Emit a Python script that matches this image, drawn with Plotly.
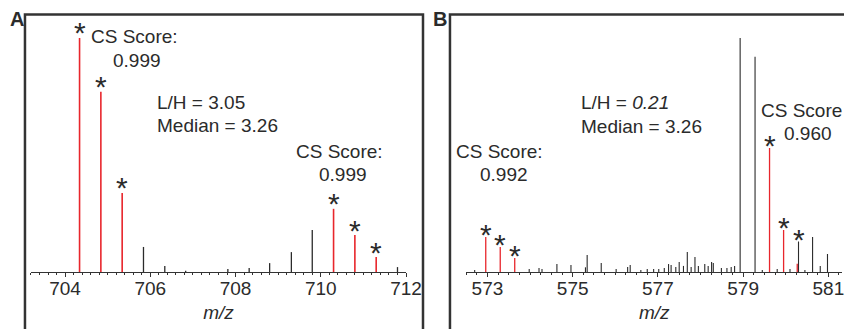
import plotly.graph_objects as go

# ---------------- data ----------------
# Panel A
a_mz = [704.34, 704.84, 705.34, 705.84, 706.34, 706.83, 707.82, 708.32, 708.80,
        709.31, 709.80, 710.30, 710.80, 711.30, 711.80]
a_int = [100, 77, 33.8, 10.7, 2.6, 0.5, 1.3, 1.7, 3.8, 8.5, 18, 27, 15.8, 6.4, 2.1]
a_marked = [1, 1, 1, 0, 0, 0, 0, 0, 0, 0, 0, 1, 1, 1, 0]

# Panel B
b_mz = [572.96, 573.30, 573.64, 579.62, 579.95, 580.27,
        578.93, 579.28, 580.30, 580.63, 580.81, 580.98,
        572.70, 573.98, 574.21, 574.28, 574.63, 574.96, 575.30, 575.34, 575.67,
        576.02, 576.29, 576.35, 576.60, 576.75, 576.90, 577.02, 577.15, 577.25,
        577.31, 577.42, 577.50, 577.60, 577.69, 577.78, 577.87, 577.95, 578.10,
        578.18, 578.26, 578.30, 578.49, 578.62, 578.72, 578.80, 579.45, 579.80,
        580.10, 580.45]
b_int = [15, 10.7, 6, 53, 18, 3.5,
         100, 92, 13, 15, 2.6, 7.7,
         0.9, 1.3, 1.7, 1.3, 3.4, 3.0, 2.0, 7.3, 3.8,
         1.3, 2.1, 3.0, 0.9, 1.3, 1.3, 1.3, 1.7, 3.4,
         3.0, 2.1, 4.3, 2.6, 8.5, 2.1, 6.4, 2.6, 3.4,
         2.6, 4.3, 3.8, 1.7, 1.7, 2.1, 2.6, 0.9, 1.3,
         1.3, 0.9]
b_red = [1, 1, 1, 1, 1, 1] + [0] * 44
b_star = [1, 1, 1, 1, 1, 0, 0, 0, 1] + [0] * 41

a_tick_vals = [704, 706, 708, 710, 712]
b_tick_vals = [573, 575, 577, 579, 581]

a_text = {"cs1": ("CS Score:", "0.999"), "lh": ("L/H = 3.05", "Median = 3.26"),
          "cs2": ("CS Score:", "0.999")}
b_text = {"cs1": ("CS Score:", "0.992"), "lh": ("L/H = <i>0.21</i>", "Median = 3.26"),
          "cs2": ("CS Score", "0.960")}

# ---------------- helpers ----------------
W, H = 845, 329          # reference picture size (layout positions are read in these pixels)
FIG_W = 860              # figure width handed to plotly
RED = "#e8262c"
DARK = "#2b2b2b"
FONT = "Liberation Sans, Arial, Helvetica, sans-serif"


def px(x):
    return x / W


def py(y):
    return (H - y) / H


def sticks(xs, ys, sel):
    X, Y = [], []
    for x, y, s in zip(xs, ys, sel):
        if s:
            X += [x, x, None]
            Y += [0, y, None]
    return X, Y


fig = go.Figure()

# Panel A peaks
xk, yk = sticks(a_mz, a_int, [1 - m for m in a_marked])
fig.add_trace(go.Scatter(x=xk, y=yk, mode="lines", line=dict(color=DARK, width=1.3),
                         xaxis="x", yaxis="y", hoverinfo="skip", showlegend=False))
xr, yr = sticks(a_mz, a_int, a_marked)
fig.add_trace(go.Scatter(x=xr, y=yr, mode="lines", line=dict(color=RED, width=1.6),
                         xaxis="x", yaxis="y", hoverinfo="skip", showlegend=False))

# Panel B peaks
xr, yr = sticks(b_mz, b_int, b_red)
fig.add_trace(go.Scatter(x=xr, y=yr, mode="lines", line=dict(color=RED, width=1.3),
                         xaxis="x2", yaxis="y2", hoverinfo="skip", showlegend=False))
xk, yk = sticks(b_mz, b_int, [1 - m for m in b_red])
fig.add_trace(go.Scatter(x=xk, y=yk, mode="lines", line=dict(color=DARK, width=1.1),
                         xaxis="x2", yaxis="y2", hoverinfo="skip", showlegend=False))

annotations = []
# asterisks
for x, y, m in zip(a_mz, a_int, a_marked):
    if m:
        annotations.append(dict(x=x, y=y, xref="x", yref="y", text="*", showarrow=False,
                                yanchor="middle", yshift=5,
                                font=dict(size=30, color=DARK, family=FONT)))
for x, y, m in zip(b_mz, b_int, b_star):
    if m:
        annotations.append(dict(x=x, y=y, xref="x2", yref="y2", text="*", showarrow=False,
                                yanchor="middle", yshift=2,
                                font=dict(size=30, color=DARK, family=FONT)))


def txt(t, x, y, size=19, anchor="left"):
    annotations.append(dict(x=px(x), y=py(y), xref="paper", yref="paper", text=t,
                            showarrow=False, xanchor=anchor, yanchor="middle",
                            font=dict(size=size, color=DARK, family=FONT)))


# Panel A labels
txt(a_text["cs1"][0], 89, 36)
txt(a_text["cs1"][1], 111, 60)
txt(a_text["lh"][0], 155, 102)
txt(a_text["lh"][1], 155, 125)
txt(a_text["cs2"][0], 294, 152)
txt(a_text["cs2"][1], 317, 174)
# Panel B labels
txt(b_text["cs1"][0], 455, 152)
txt(b_text["cs1"][1], 479, 174)
txt(b_text["lh"][0], 580, 102)
txt(b_text["lh"][1], 580, 126)
txt(b_text["cs2"][0], 760, 110)
txt(b_text["cs2"][1], 783, 133)
# panel letters
txt("<b>A</b>", 17, 19, size=20, anchor="center")
txt("<b>B</b>", 441, 19, size=20, anchor="center")

# panel frames, drawn as open paths kept inside the page
frame_line = dict(color="#333", width=2.5)
shapes = [
    dict(type="path", xref="paper", yref="paper", line=frame_line,
         path=f"M {px(25)},{py(329)} L {px(25)},{py(14.5)} L {px(423.5)},{py(14.5)} "
              f"L {px(423.5)},{py(329)}"),
    dict(type="path", xref="paper", yref="paper", line=frame_line,
         path=f"M {px(450.5)},{py(329)} L {px(450.5)},{py(14.5)} L {px(845)},{py(14.5)}"),
]

ytop = 259 / 234 * 100


def xax(domain, rng, vals, minor_dt):
    return dict(domain=domain, range=rng, showline=True, linecolor="#333", linewidth=1,
                ticks="outside", ticklen=4, tickwidth=1, tickcolor="#333",
                tickmode="array", tickvals=vals, ticklabelstandoff=-5,
                minor=dict(ticks="outside", ticklen=2, dtick=minor_dt, tickcolor="#333",
                           tickwidth=1, showgrid=False),
                showgrid=False, zeroline=False,
                tickfont=dict(size=19, color=DARK, family=FONT),
                title=dict(text="<i>m/z</i>", standoff=7,
                           font=dict(size=19, color=DARK, family=FONT)),
                fixedrange=True)


fig.update_layout(
    width=FIG_W, height=H, autosize=False,
    margin=dict(l=0, r=0, t=0, b=0),
    paper_bgcolor="white", plot_bgcolor="white",
    xaxis=dict(anchor="y", **xax([px(31), px(406.5)], [703.2, 712.0], a_tick_vals, 0.2)),
    yaxis=dict(domain=[py(272), py(13)], range=[0, ytop], visible=False, anchor="x"),
    xaxis2=dict(anchor="y2", **xax([px(466.7), px(843.4)], [572.5, 581.33], b_tick_vals, 0.25)),
    yaxis2=dict(domain=[py(272), py(13)], range=[0, ytop], visible=False, anchor="x2"),
    annotations=annotations,
    shapes=shapes,
    showlegend=False,
)

fig.write_html(
    "out.html",
    config={"displayModeBar": False, "responsive": False},
    post_script=(
        "document.documentElement.style.margin='0';"
        "document.documentElement.style.overflow='hidden';"
        "document.body.style.margin='0';document.body.style.padding='0';"
        "document.body.style.overflow='hidden';"
    ),
)
